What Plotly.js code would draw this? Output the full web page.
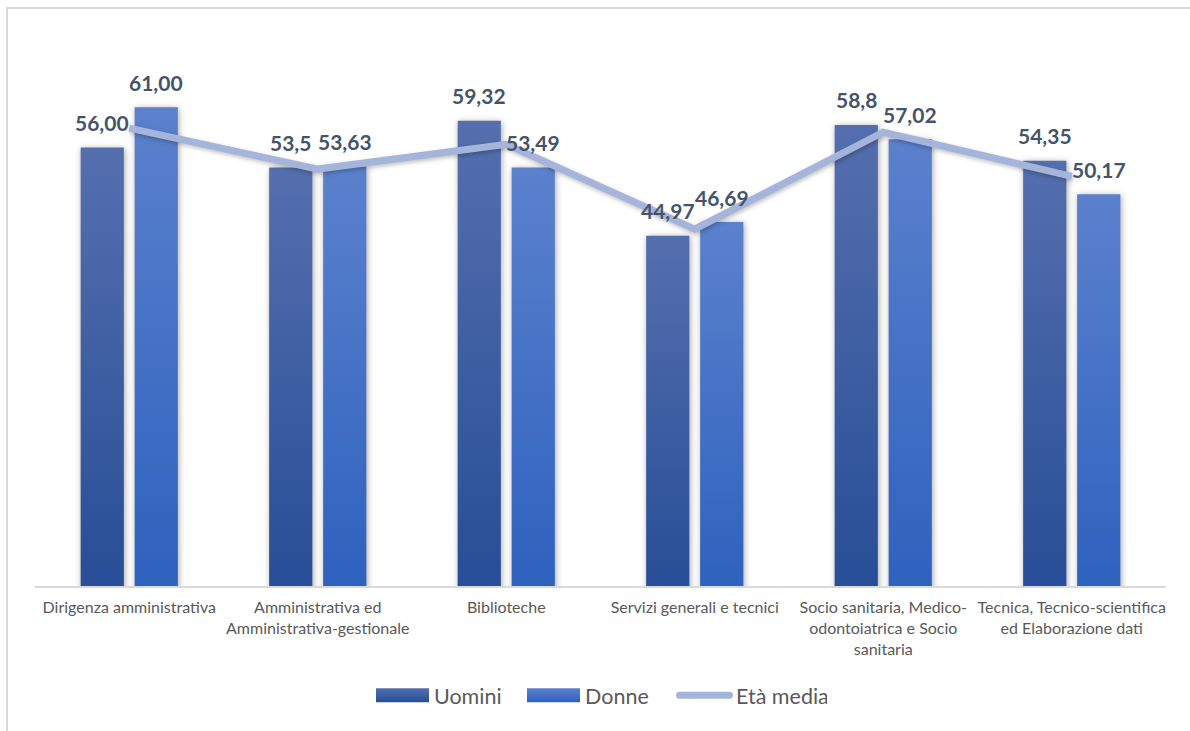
<!DOCTYPE html>
<html>
<head>
<meta charset="utf-8">
<script src="https://cdn.plot.ly/plotly-3.0.1.min.js"></script>
<style>
  html, body { margin: 0; padding: 0; background: #fff; }
  #wrap { position: relative; width: 1190px; height: 731px; overflow: hidden; }
  #frame { position: absolute; left: 6px; top: 7px; width: 1300px; height: 900px;
           border-left: 2px solid #d9d9d9; border-top: 2px solid #d9d9d9; pointer-events: none; }
  #chart { position: absolute; left: 0; top: 0; width: 1190px; height: 731px; }
  .barlayer .point path { filter: drop-shadow(1px 1px 3px rgba(0,0,0,0.35)); }
  .scatterlayer .js-line { filter: drop-shadow(1px 2px 2px rgba(0,0,0,0.25)); }
</style>
</head>
<body>
<div id="wrap">
  <div id="chart"></div>
  <div id="frame"></div>
</div>
<script>
// ---- data ----
const categories = [
  "Dirigenza amministrativa",
  "Amministrativa ed<br>Amministrativa-gestionale",
  "Biblioteche",
  "Servizi generali e tecnici",
  "Socio sanitaria, Medico-<br>odontoiatrica e Socio<br>sanitaria",
  "Tecnica, Tecnico-scientifica<br>ed Elaborazione dati"
];
const uomini = [56.00, 53.5, 59.32, 44.97, 58.8, 54.35];
const donne  = [61.00, 53.63, 53.49, 46.69, 57.02, 50.17];
const etaMedia = [58.4, 53.3, 56.4, 45.8, 57.9, 52.4];
const uominiLabels = ["56,00", "53,5", "59,32", "44,97", "58,8", "54,35"];
const donneLabels  = ["61,00", "53,63", "53,49", "46,69", "57,02", "50,17"];
const seriesNames = ["Uomini", "Donne", "Età media"];

// ---- traces ----
const traces = [
  { type: 'bar', name: seriesNames[0], x: categories, y: uomini,
    marker: { color: '#3a5ca3' }, hoverinfo: 'skip' },
  { type: 'bar', name: seriesNames[1], x: categories, y: donne,
    marker: { color: '#4472c4' }, hoverinfo: 'skip' },
  { type: 'scatter', mode: 'lines', name: seriesNames[2], x: categories, y: etaMedia,
    line: { color: '#a5b4db', width: 7 }, hoverinfo: 'skip' }
];

const labelFont = { family: 'Lato, "Open Sans", sans-serif', size: 21, color: '#44546a', weight: 'bold' };
const annotations = [];
const offset = 27;
categories.forEach((c, i) => {
  annotations.push({ x: c, y: uomini[i], text: '<b>' + uominiLabels[i] + '</b>', showarrow: false,
    xshift: -offset, yshift: 25, yanchor: 'middle', font: labelFont });
  annotations.push({ x: c, y: donne[i], text: '<b>' + donneLabels[i] + '</b>', showarrow: false,
    xshift: offset, yshift: 25, yanchor: 'middle', font: labelFont });
});

const layout = {
  width: 1190, height: 731,
  margin: { l: 35, r: 24, t: 40, b: 145 },
  paper_bgcolor: 'rgba(0,0,0,0)', plot_bgcolor: 'rgba(0,0,0,0)',
  barmode: 'group', bargap: 0.427, bargroupgap: 0.2,
  font: { family: 'Lato, "Open Sans", sans-serif', color: '#595959' },
  xaxis: {
    type: 'category', showline: true, linecolor: '#d9d9d9', linewidth: 2,
    ticks: '', showgrid: false, zeroline: false, fixedrange: true,
    ticklabelstandoff: 6,
    tickfont: { size: 16, color: '#595959' }
  },
  yaxis: {
    range: [1.3, 69.4], visible: false, showgrid: false, zeroline: false, fixedrange: true
  },
  showlegend: true,
  legend: {
    orientation: 'h', x: 0.5, xanchor: 'center', y: -0.2, yanchor: 'middle',
    font: { size: 21.5, color: '#595959' }, itemwidth: 50, traceorder: 'normal',
    entrywidth: 86, entrywidthmode: 'pixels',
    itemclick: false, itemdoubleclick: false
  },
  annotations: annotations
};

Plotly.newPlot('chart', traces, layout, { displayModeBar: false, staticPlot: true }).then(gd => {
  const svgNS = 'http://www.w3.org/2000/svg';
  const svg = gd.querySelector('svg.main-svg');
  const defs = document.createElementNS(svgNS, 'defs');
  function grad(id, top, bottom) {
    const g = document.createElementNS(svgNS, 'linearGradient');
    g.setAttribute('id', id);
    g.setAttribute('x1', '0'); g.setAttribute('y1', '0');
    g.setAttribute('x2', '0'); g.setAttribute('y2', '1');
    [[0, top], [1, bottom]].forEach(([o, c]) => {
      const s = document.createElementNS(svgNS, 'stop');
      s.setAttribute('offset', o); s.setAttribute('stop-color', c);
      g.appendChild(s);
    });
    defs.appendChild(g);
  }
  grad('gradU', '#556fae', '#264d96');
  grad('gradD', '#5b81cd', '#2d61be');
  svg.insertBefore(defs, svg.firstChild);
  const ids = ['gradU', 'gradD'];
  gd.querySelectorAll('.barlayer .trace').forEach((t, i) => {
    t.querySelectorAll('path').forEach(p => { p.style.fill = 'url(#' + ids[i] + ')'; });
  });
  // legend swatches: resize relative to the legend text
  gd.querySelectorAll('.legend .traces').forEach((lt, i) => {
    const txt = lt.querySelector('text.legendtext');
    if (!txt) return;
    const T = txt.getBoundingClientRect().left;
    if (i < 2) {
      lt.querySelectorAll('.legendpoints path').forEach(p => {
        const bb = p.getBBox(), r = p.getBoundingClientRect();
        const off = r.left - bb.x;
        const cy = bb.y + bb.height / 2;
        const x0 = (T - 58) - off, x1 = (T - 5) - off;
        p.setAttribute('d', 'M' + x0 + ',' + (cy - 7) + 'H' + x1 + 'V' + (cy + 7) + 'H' + x0 + 'Z');
        p.style.fill = 'url(#' + ids[i] + ')';
        p.style.stroke = 'none';
      });
    } else {
      lt.querySelectorAll('.legendlines path').forEach(p => {
        const bb = p.getBBox(), r = p.getBoundingClientRect();
        const off = r.left - bb.x;
        const cy = bb.y + bb.height / 2;
        const x0 = (T - 60 + 3.5) - off, x1 = (T - 3 - 3.5) - off;
        p.setAttribute('d', 'M' + x0 + ',' + cy + 'H' + x1);
        p.style.strokeLinecap = 'round';
      });
    }
  });
});
</script>
</body>
</html>
